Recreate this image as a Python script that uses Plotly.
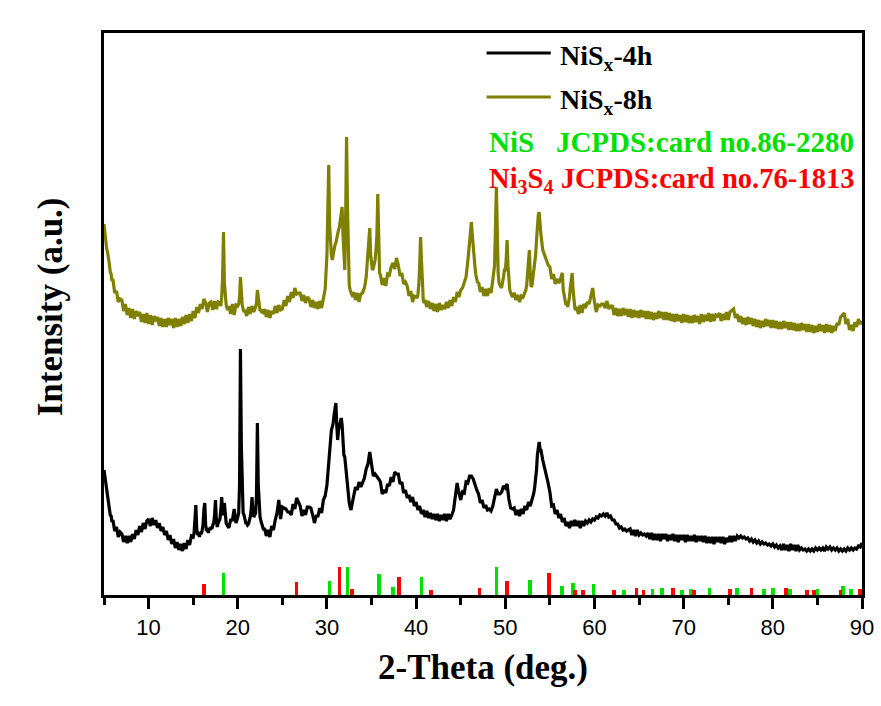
import plotly.graph_objects as go

# ---------------- data ----------------
# Intensity samples (a.u.), grouped by integer 2-theta degree; samples are evenly spaced inside each degree
nisx_4h_rows = {
    5: [125, 118, 113, 103, 99, 90, 88, 80, 79, 73],
    6: [75, 64, 68, 58, 63], 7: [61, 53, 59, 52, 59], 8: [53, 61, 56, 65, 60],
    9: [69, 63, 72, 66, 74], 10: [76, 69, 77, 70, 75], 11: [67, 72, 64, 68, 60],
    12: [64, 55, 60, 51, 56], 13: [47, 53, 45, 51, 44], 14: [52, 46, 55, 50, 59],
    15: [58, 62, 75, 90, 66, 60, 62, 58, 63, 61],
    16: [64, 70, 85, 92, 70, 64, 66, 62, 67, 65],
    17: [68, 66, 70, 72, 80, 95, 75, 68, 72, 74],
    18: [76, 85, 98, 82, 80, 92, 78, 72, 70, 68],
    19: [67, 75, 75, 86, 72],
    20: [78, 82, 110, 246, 150, 90, 82, 80, 76, 72],
    21: [72, 70, 71, 74, 78, 85, 98, 82, 78, 80],
    22: [82, 100, 172, 110, 85, 78, 74, 70, 67, 65],
    23: [67, 59, 65, 58, 69], 24: [65, 75, 82, 95, 76], 25: [88, 87, 86, 83, 83],
    26: [80, 91, 86, 97, 93], 27: [89, 79, 85, 80, 88], 28: [88, 87, 80, 72, 79],
    29: [79, 87, 82, 95, 99],
    30: [110, 122, 135, 148, 158, 165, 168, 172, 180, 188],
    31: [192, 170, 155, 165, 170, 172, 177, 170, 150, 140],
    32: [138, 128, 118, 108, 100, 92, 88, 85, 90, 95],
    33: [96, 108, 105, 113, 108], 34: [113, 117, 126, 131, 143], 35: [133, 119, 121, 119, 116],
    36: [113, 101, 105, 102, 111], 37: [109, 118, 113, 123, 121], 38: [121, 111, 113, 102, 105],
    39: [97, 100, 93, 98, 89], 40: [93, 85, 89, 81, 85], 41: [78, 84, 77, 82, 76],
    42: [81, 75, 81, 74, 80], 43: [75, 81, 74, 81, 76],
    44: [80, 82, 85, 92, 100, 108, 112, 106, 102, 98],
    45: [95, 103, 102, 113, 112], 46: [119, 119, 116, 109, 105], 47: [101, 92, 95, 87, 90],
    48: [85, 86, 84, 89, 96], 49: [106, 101, 101, 103, 109], 50: [107, 111, 96, 87, 86],
    51: [87, 80, 85, 79, 86], 52: [81, 89, 85, 93, 89],
    53: [95, 98, 102, 108, 115, 125, 140, 148, 153, 146],
    54: [145, 135, 128, 122, 112], 55: [103, 89, 90, 81, 85], 56: [77, 81, 73, 77, 69],
    57: [73, 67, 74, 69, 75], 58: [69, 74, 67, 74, 69], 59: [74, 72, 75, 73, 76],
    60: [75, 78, 77, 80, 79], 61: [81, 79, 82, 78, 79], 62: [75, 75, 71, 71, 67],
    63: [68, 65, 66, 64, 65], 64: [66, 60, 65, 59, 65], 65: [60, 62, 60, 61, 59],
    66: [62, 56, 62, 55, 61], 67: [55, 61, 54, 61, 56], 68: [61, 54, 60, 55, 61],
    69: [54, 60, 53, 60, 55], 70: [60, 53, 60, 54, 59], 71: [54, 60, 53, 59, 54],
    72: [59, 53, 59, 52, 58], 73: [52, 58, 51, 58, 53], 74: [58, 52, 58, 51, 57],
    75: [53, 59, 53, 59, 54], 76: [59, 57, 59, 57, 58], 77: [56, 57, 54, 56, 53],
    78: [55, 52, 54, 51, 53], 79: [51, 52, 50, 51, 49], 80: [51, 48, 50, 47, 49],
    81: [45, 51, 45, 50, 44], 82: [51, 45, 50, 44, 50], 83: [45, 47, 45, 46, 44],
    84: [46, 44, 46, 44, 47], 85: [45, 47, 45, 47, 44], 86: [48, 46, 48, 45, 47],
    87: [45, 47, 44, 46, 44], 88: [46, 44, 47, 45, 47], 89: [45, 47, 46, 49, 48],
    90: [52],
}

nisx_8h_rows = {
    5: [371, 360, 357, 346, 343, 333, 331, 323, 321, 314],
    6: [316, 302, 304, 293, 296], 7: [295, 284, 291, 280, 287], 8: [277, 286, 276, 284, 279],
    9: [283, 273, 281, 272, 282], 10: [271, 280, 270, 279, 274], 11: [278, 269, 277, 268, 276],
    12: [268, 277, 270, 276, 267], 13: [277, 268, 276, 269, 278], 14: [271, 280, 272, 281, 274],
    15: [284, 277, 288, 282, 291], 16: [286, 296, 292, 283, 292], 17: [293, 285, 294, 286, 293],
    18: [292, 289, 298, 318, 363, 312, 294, 290, 287, 285],
    19: [289, 281, 291, 280, 290],
    20: [289, 291, 297, 318, 300, 290, 286, 283, 285, 282],
    21: [279, 288, 281, 289, 283],
    22: [288, 292, 305, 296, 287, 284, 286, 282, 284, 281],
    23: [286, 278, 285, 277, 284], 24: [281, 289, 282, 290, 285], 25: [286, 295, 289, 299, 293],
    26: [303, 297, 307, 301, 302], 27: [302, 294, 300, 292, 298], 28: [296, 288, 295, 287, 293],
    29: [286, 294, 287, 298, 306],
    30: [340, 400, 430, 370, 345, 340, 335, 342, 345, 350],
    31: [352, 358, 362, 365, 368, 375, 385, 388, 360, 330],
    32: [325, 380, 458, 390, 330, 310, 305, 302, 300, 298],
    33: [303, 295, 302, 293, 301],
    34: [302, 305, 307, 312, 318, 330, 345, 360, 367, 340],
    35: [330, 325, 327, 330, 335, 345, 360, 401, 350, 322],
    36: [320, 310, 317, 309, 321], 37: [320, 328, 332, 326, 337], 38: [330, 319, 322, 311, 313],
    39: [309, 299, 304, 293, 299],
    40: [298, 297, 300, 310, 330, 358, 335, 300, 295, 292],
    41: [295, 288, 294, 286, 292], 42: [284, 291, 283, 292, 285], 43: [290, 286, 293, 287, 295],
    44: [289, 298, 293, 303, 298], 45: [305, 307, 313, 318, 334],
    46: [350, 365, 373, 360, 345, 335, 328, 320, 315, 312],
    47: [313, 303, 308, 299, 306], 48: [299, 307, 302, 315, 330],
    49: [408, 360, 322, 312, 310, 308, 308, 312, 318, 325],
    50: [325, 335, 355, 330, 312, 305, 302, 300, 298, 300],
    51: [302, 295, 300, 293, 299],
    52: [298, 300, 302, 305, 310, 320, 335, 345, 320, 308],
    53: [310, 318, 322, 330, 340, 355, 370, 380, 383, 370],
    54: [360, 345, 340, 335, 330], 55: [328, 316, 321, 311, 316],
    56: [312, 314, 316, 320, 322, 305, 298, 292, 290, 292],
    57: [288, 293, 298, 308, 318, 322, 305, 292, 287, 285],
    58: [288, 281, 290, 282, 291], 59: [287, 293, 291, 301, 307], 60: [293, 283, 290, 289, 291],
    61: [291, 287, 294, 286, 289], 62: [289, 280, 287, 279, 286], 63: [279, 287, 280, 286, 278],
    64: [286, 277, 285, 278, 284], 65: [277, 285, 278, 284, 276], 66: [284, 276, 283, 275, 282],
    67: [276, 284, 277, 283, 275], 68: [283, 275, 282, 274, 281], 69: [273, 281, 274, 280, 272],
    70: [281, 273, 280, 272, 279], 71: [272, 280, 273, 279, 271], 72: [281, 273, 280, 274, 282],
    73: [273, 281, 274, 280, 279], 74: [282, 274, 281, 275, 283], 75: [275, 283, 285, 286, 277],
    76: [281, 273, 279, 271, 277], 77: [270, 278, 271, 277, 269], 78: [276, 268, 275, 267, 274],
    79: [268, 276, 269, 275, 267], 80: [275, 267, 274, 266, 273], 81: [266, 274, 267, 273, 265],
    82: [273, 265, 272, 264, 271], 83: [264, 272, 265, 271, 263], 84: [271, 263, 270, 262, 269],
    85: [263, 271, 264, 270, 262], 86: [271, 263, 270, 262, 269], 87: [264, 272, 270, 278, 280],
    88: [282, 271, 276, 265, 270], 89: [264, 273, 268, 276, 271],
    90: [274],
}

# Standard reference patterns (stick positions in 2-theta, relative heights)
nis_pos = [18.4, 30.3, 32.3, 35.8, 37.4, 40.6, 49.0, 52.8, 56.4, 57.6, 59.9, 63.3,
           66.5, 67.6, 69.8, 70.8, 72.9, 76.0, 79.0, 80.0, 81.9, 85.0, 87.9, 88.8]
nis_h = [22, 14, 28, 21, 8, 18, 28, 15, 9, 12, 11, 5,
         6, 7, 5, 6, 7, 7, 6, 7, 6, 6, 9, 6]
ni3s4_pos = [16.2, 26.6, 31.4, 32.8, 38.1, 41.7, 47.1, 50.2, 54.9, 57.8, 58.7, 62.2,
             64.7, 65.5, 68.8, 71.2, 75.2, 77.6, 81.5, 83.8, 84.6, 87.6, 89.8]
ni3s4_h = [11, 13, 28, 6, 18, 5, 7, 14, 22, 5, 5, 5,
           7, 5, 7, 5, 6, 7, 7, 5, 5, 5, 6]

x_tickvals = [10, 20, 30, 40, 50, 60, 70, 80, 90]
x_ticktext = ["10", "20", "30", "40", "50", "60", "70", "80", "90"]

series_names = ["NiS<sub>x</sub>-4h", "NiS<sub>x</sub>-8h"]
ref_labels = ["NiS\u00a0\u00a0 JCPDS:card no.86-2280",
              "Ni<sub>3</sub>S<sub>4</sub> JCPDS:card no.76-1813"]

# ---------------- styles ----------------
C_4H = "#000000"
C_8H = "#808000"
C_NIS = "#00e000"
C_NI3S4 = "#ff0000"
SERIF = "Liberation Serif, Times New Roman, serif"
SANS = "Liberation Sans, Arial, sans-serif"


def unroll(rows):
    xs, ys = [], []
    for deg, vals in rows.items():
        n = len(vals)
        for j, v in enumerate(vals):
            xs.append(deg + j / n)
            ys.append(v)
    return xs, ys


x4, y4 = unroll(nisx_4h_rows)
x8, y8 = unroll(nisx_8h_rows)

fig = go.Figure()
fig.add_trace(go.Bar(x=nis_pos, y=nis_h, width=0.42, marker=dict(color=C_NIS, line=dict(width=0)),
                     showlegend=False, name="NiS"))
fig.add_trace(go.Bar(x=ni3s4_pos, y=ni3s4_h, width=0.42, marker=dict(color=C_NI3S4, line=dict(width=0)),
                     showlegend=False, name="Ni3S4"))
fig.add_trace(go.Scatter(x=x4, y=y4, mode="lines", line=dict(color=C_4H, width=3.2),
                         showlegend=False, name="NiSx-4h"))
fig.add_trace(go.Scatter(x=x8, y=y8, mode="lines", line=dict(color=C_8H, width=3.2),
                         showlegend=False, name="NiSx-8h"))

# legend drawn manually (long sample lines as in the original)
leg_y = [542, 498]
leg_col = [C_4H, C_8H]
for yy, col, name in zip(leg_y, leg_col, series_names):
    fig.add_shape(type="line", xref="x", yref="y", x0=47.9, x1=55.1, y0=yy, y1=yy,
                  line=dict(color=col, width=3))
    fig.add_annotation(x=55.9, y=yy, xref="x", yref="y", xanchor="left", yanchor="middle",
                       text="<b>" + name + "</b>", showarrow=False,
                       font=dict(family=SERIF, size=28, color="black"), yshift=-4)

for yy, col, txt in zip([453, 415], [C_NIS, C_NI3S4], ref_labels):
    fig.add_annotation(x=47.95, y=yy, xref="x", yref="y", xanchor="left", yanchor="middle",
                       text="<b>" + txt + "</b>", showarrow=False,
                       font=dict(family=SERIF, size=29 if col == C_NIS else 28.6, color=col))

# axis titles
fig.add_annotation(x=0.5, y=0, xref="paper", yref="paper", xanchor="center", yanchor="middle",
                   yshift=-72, text="<b>2-Theta (deg.)</b>", showarrow=False,
                   font=dict(family=SERIF, size=35, color="black"))
fig.add_annotation(x=0, y=0.512, xref="paper", yref="paper", xanchor="center", yanchor="middle",
                   xshift=-54, textangle=-90, text="<b>Intensity (a.u.)</b>", showarrow=False,
                   font=dict(family=SERIF, size=35, color="black"))

fig.update_layout(
    width=881, height=706, autosize=False,
    margin=dict(l=104, r=19, t=33, b=111, pad=0),
    paper_bgcolor="white", plot_bgcolor="white",
    barmode="overlay", bargap=0,
    xaxis=dict(range=[5, 90], tickvals=x_tickvals, ticktext=x_ticktext, automargin=False,
               showline=True, linecolor="black", linewidth=3, mirror=True,
               ticks="outside", ticklen=11, tickwidth=3, tickcolor="black",
               minor=dict(tickvals=[5, 15, 25, 35, 45, 55, 65, 75, 85], ticks="outside",
                          ticklen=7, tickwidth=3, tickcolor="black"),
               showgrid=False, zeroline=False,
               tickfont=dict(family=SANS, size=22, color="black")),
    yaxis=dict(range=[0, 562], showline=True, linecolor="black", linewidth=3, mirror=True,
               automargin=False, showticklabels=False, ticks="", showgrid=False, zeroline=False),
)

fig.write_html("out.html", config={"displayModeBar": False, "responsive": False},
               post_script="document.body.style.margin='0px';document.body.style.overflow='hidden';")
